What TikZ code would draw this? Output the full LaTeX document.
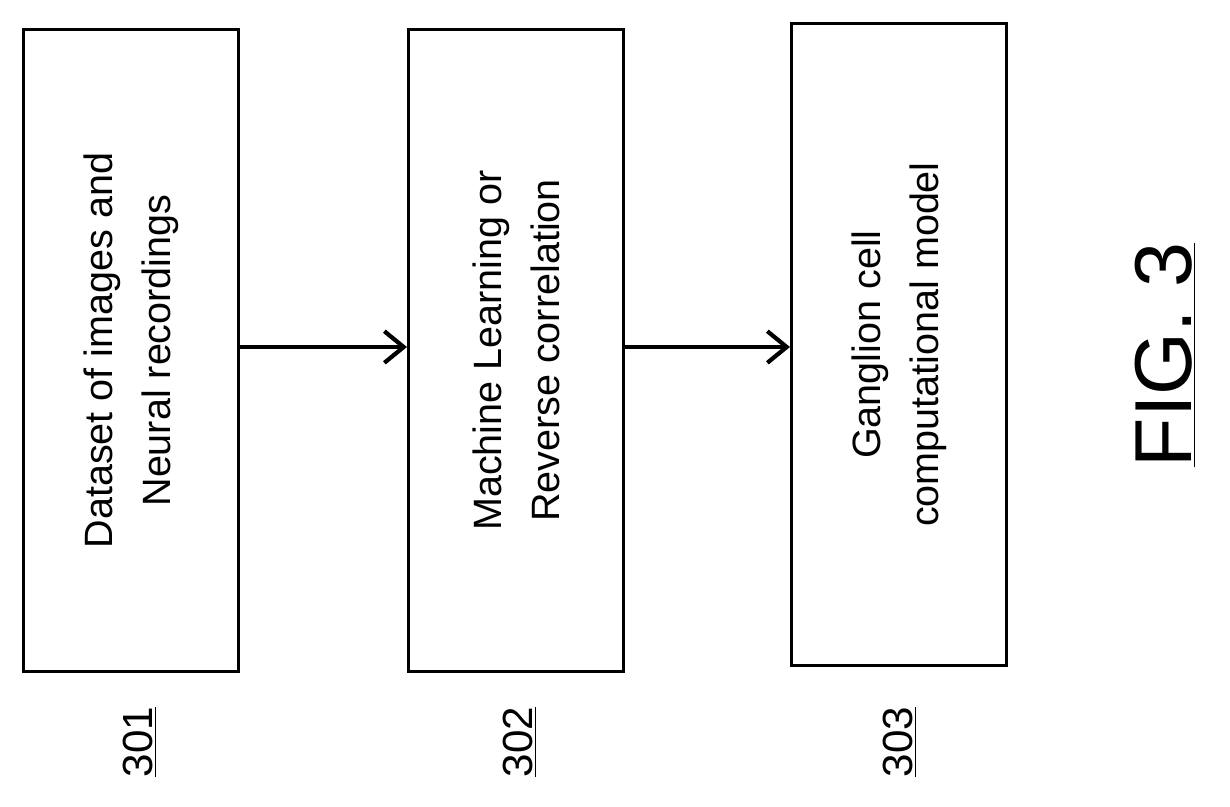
\documentclass[tikz,border=0pt]{standalone}
\usepackage{fontspec}
\setmainfont{Liberation Sans}
\usetikzlibrary{arrows.meta}
\begin{document}
\begin{tikzpicture}[x=0.02cm,y=-0.02cm,
    stage/.style={draw, line width=1.8pt, anchor=north west, minimum width=4.3cm, minimum height=12.84cm},
    stagetext/.style={rotate=90, align=center, font=\fontsize{22.5}{33}\selectfont},
    ref/.style={rotate=90, font=\fontsize{24}{28}\selectfont},
    flow/.style={-{Straight Barb[length=11pt,width=18pt,line width=2.4pt]}, line width=2.4pt}]
    \useasboundingbox (0,0) rectangle (1230,806);

    % Stages
    \node[stage] (s1) at (22,28) {};
    \node[stage] (s2) at (407,28) {};
    \node[stage] (s3) at (790,22) {};
    \node[stagetext] (t1) at (s1.center) {Dataset of images and\\Neural recordings};
    \node[stagetext] (t2) at (s2.center) {Machine Learning or\\Reverse correlation};
    \node[stagetext] (t3) at (s3.center) {Ganglion cell\\computational model};

    % Flow between stages
    \draw[flow] (s1.east |- 0,347) -- (s2.west |- 0,347);
    \draw[flow] (s2.east |- 0,347) -- (s3.west |- 0,347);

    % Reference numerals
    \node[ref] (r1) at (140,742) {\underline{301}};
    \node[ref] (r2) at (520,742) {\underline{302}};
    \node[ref] (r3) at (900,742) {\underline{303}};

    % Figure caption
    \node[rotate=90, font=\fontsize{46}{50}\selectfont] (fig) at (1165,355) {\underline{FIG. 3}};
\end{tikzpicture}
\end{document}
